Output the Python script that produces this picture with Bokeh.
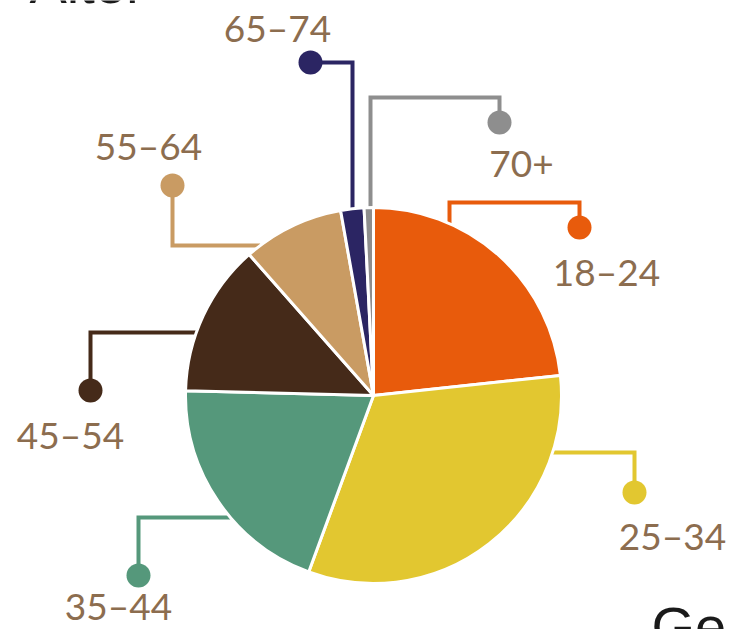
import math
from bokeh.plotting import figure
from bokeh.models import Range1d, ColumnDataSource
from bokeh.core.properties import value
from bokeh.embed import file_html
from bokeh.resources import INLINE

# ---- data ----
categories = ["18–24", "25–34", "35–44", "45–54", "55–64", "65–74", "70+"]
shares = [23.3, 32.3, 19.8, 13.1, 8.7, 2.0, 0.8]
colors = ["#E85B0C", "#E2C730", "#55987B", "#452A19", "#C99B63", "#2B2563", "#8E8E8E"]
headings = ["Alter", "Geschlecht"]

# ---- layout (reference pixel coords, y pointing down) ----
FW, FH = 726, 629
H = 637
CX, CY, R = 373, 395, 188
# (first segment orientation, its coordinate, elbow points, dot, label centre)
leaders = [
    ("v", 449, [(449, 202), (579, 202)], (579, 227), (606, 271)),
    ("h", 452, [(634, 452)], (634, 492), (672, 535)),
    ("h", 517, [(138, 517)], (138, 575), (118, 605)),
    ("h", 332, [(90, 332)], (90, 390), (70, 434)),
    ("h", 245, [(172, 245)], (172, 185), (148, 145)),
    ("v", 352, [(352, 62)], (310, 62), (277, 27)),
    ("v", 370, [(370, 97), (499, 97)], (499, 122), (521, 163)),
]
heading_pos = [(29, -17), (651, 626)]
LABEL_COLOR = "#8C6D4F"


def Y(v):
    return H - v


p = figure(width=FW, height=FH, output_backend="svg", toolbar_location=None,
           x_range=Range1d(0, FW), y_range=Range1d(H - FH, H), min_border=0)
p.axis.visible = False
p.grid.visible = False
p.outline_line_color = None
p.background_fill_color = "white"
p.border_fill_color = "white"

# leader lines
xs, ys = [], []
for orient, c, elbows, dot, lab in leaders:
    first = elbows[0]
    if orient == "h":
        d = math.sqrt(max(R ** 2 - (c - CY) ** 2, 0))
        x0 = CX + d if first[0] > CX else CX - d
        start = (x0, c)
    else:
        d = math.sqrt(max(R ** 2 - (c - CX) ** 2, 0))
        y0 = CY - d if first[1] < CY else CY + d
        start = (c, y0)
    pts = [start] + elbows + [dot]
    xs.append([pt[0] for pt in pts])
    ys.append([Y(pt[1]) for pt in pts])
p.multi_line(xs=xs, ys=ys, line_color=colors, line_width=4, line_join="miter")

# pie
total = sum(shares)
starts, ends = [], []
cum = 0.0
for s in shares:
    starts.append(math.pi / 2 - 2 * math.pi * cum / total)
    cum += s
    ends.append(math.pi / 2 - 2 * math.pi * cum / total)
src = ColumnDataSource(dict(cat=categories, share=shares, color=colors,
                            start=starts, end=ends))
p.wedge(x=CX, y=Y(CY), radius=R, start_angle="start", end_angle="end",
        direction="clock", fill_color="color", line_color="white",
        line_width=3, source=src)

# dots
p.circle(x=[l[3][0] for l in leaders], y=[Y(l[3][1]) for l in leaders],
         radius=12, fill_color=colors, line_color=None)

# labels
p.text(x=[l[4][0] for l in leaders], y=[Y(l[4][1]) for l in leaders],
       text=categories, text_align="center", text_baseline="middle",
       text_font=value("Lato"), text_font_size="37px", text_color=LABEL_COLOR)

# cut-off section headings (as in the reference)
p.text(x=[hp[0] for hp in heading_pos], y=[Y(hp[1]) for hp in heading_pos],
       text=headings, text_align="left", text_baseline="middle",
       text_font=value("Liberation Sans"), text_font_size="56px",
       text_color="#1A1A1A")

open("out.html", "w").write(file_html(p, INLINE))
